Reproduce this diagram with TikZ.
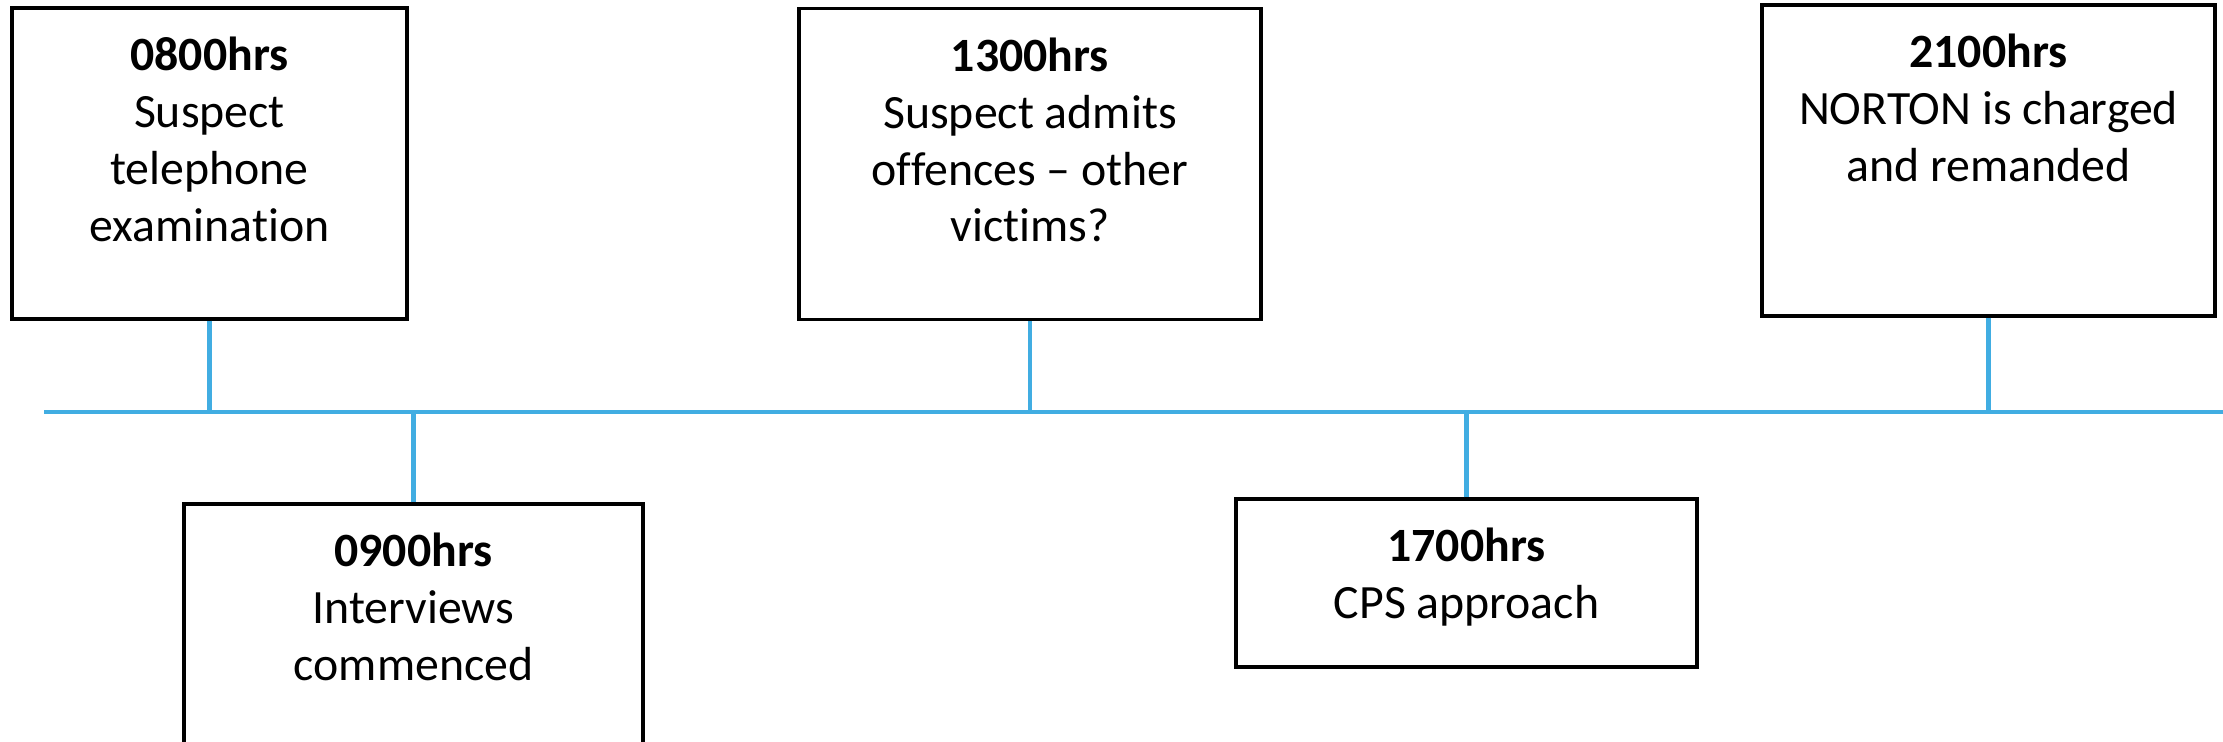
\documentclass[tikz,border=0pt]{standalone}
\usepackage{fontspec}
\setmainfont{Carlito}[Ligatures={NoCommon}]
\usepackage{xcolor}
\usepackage{tikz}
\usetikzlibrary{positioning, calc}
\definecolor{timelineblue}{RGB}{65, 173, 226}

\begin{document}
\begin{tikzpicture}[
    eventbox/.style={draw, line width=0.9pt, minimum height=3.11cm, inner sep=0pt},
    eventtext/.style={anchor=north, align=center, inner sep=0pt, font=\fontsize{13.6}{16.2}\selectfont},
    tick/.style={draw=timelineblue, line width=1.3pt}
]
    \clip (0,0) rectangle (22.23,-7.41);
    % timeline
    \coordinate (tlstart) at (0.44,-4.12);
    \coordinate (tlend) at (22.23,-4.12);
    \draw[tick] (tlstart) -- (tlend);
    % events above the line
    \node[eventbox, minimum width=3.95cm] (e0800) at (2.095,-1.635) {};
    \node[eventbox, minimum width=4.62cm] (e1300) at (10.30,-1.64) {};
    \node[eventbox, minimum width=4.53cm] (e2100) at (19.885,-1.605) {};
    % events below the line
    \node[eventbox, minimum width=4.59cm] (e0900) at (4.135,-6.595) {};
    \node[eventbox, minimum width=4.61cm, minimum height=1.68cm] (e1700) at (14.665,-5.83) {};
    % texts
    \node[eventtext] at ([yshift=-0.30cm]e0800.north) {\textbf{0800hrs}\\Suspect\\telephone\\examination};
    \node[eventtext] at ([yshift=-0.30cm]e1300.north) {\textbf{1300hrs}\\Suspect admits\\offences -- other\\victims?};
    \node[eventtext] at ([yshift=-0.30cm]e2100.north) {\textbf{2100hrs}\\NORTON is charged\\and remanded};
    \node[eventtext] at ([yshift=-0.30cm]e0900.north) {\textbf{0900hrs}\\Interviews\\commenced};
    \node[eventtext] at ([yshift=-0.30cm]e1700.north) {\textbf{1700hrs}\\CPS approach};
    % connectors
    \draw[tick] (e0800.south) -- (e0800.south |- tlstart);
    \draw[tick] (e1300.south) -- (e1300.south |- tlstart);
    \draw[tick] (e2100.south) -- (e2100.south |- tlstart);
    \draw[tick] (e0900.north) -- (e0900.north |- tlstart);
    \draw[tick] (e1700.north) -- (e1700.north |- tlstart);
\end{tikzpicture}
\end{document}
